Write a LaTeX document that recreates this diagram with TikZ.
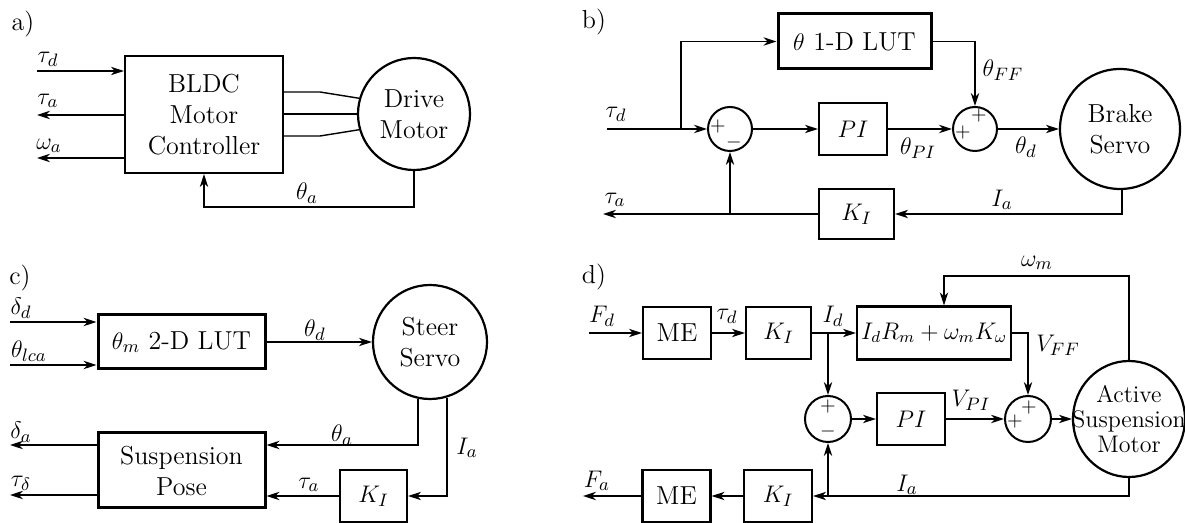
\documentclass[tikz,border=0pt]{standalone}
\usepackage{amsmath}
\usepackage{tikz}
\usetikzlibrary{arrows.meta,calc,positioning,shapes.geometric}

\begin{document}
\begin{tikzpicture}[x=0.5pt,y=-0.5pt,>={Stealth[length=6.5pt,width=4.2pt,inset=2pt]},
  blk/.style={draw,line width=1.1pt,inner sep=0pt,align=center,font=\fontsize{13}{15.5}\selectfont},
  lutblk/.style={blk,line width=1.5pt},
  sumnode/.style={draw,circle,line width=1pt,minimum size=22pt,inner sep=0pt},
  actuator/.style={draw,line width=1.1pt,inner sep=0pt,align=center,font=\fontsize{13}{15.5}\selectfont},
  sig/.style={->,line width=0.7pt},
  wire/.style={line width=0.7pt},
  lbl/.style={inner sep=0pt,font=\fontsize{13}{15}\selectfont},
  sgn/.style={inner sep=0pt,font=\fontsize{10}{12}\selectfont}]
  \useasboundingbox (0,0) rectangle (1185,523);

  % a) drive motor
  \node[lbl] (a-tag) at (23,24) {a)};
  \node[blk,minimum width=79pt,minimum height=58.5pt] (ctrl) at (204,114.5) {BLDC\\Motor\\Controller};
  \node[actuator,circle,minimum size=56pt] (drive) at (414,114) {Drive\\Motor};
  \coordinate (a-td) at (37,71);
  \coordinate (a-ta) at (37,115);
  \coordinate (a-wa) at (37,158);
  \draw[sig] (a-td) -- (a-td -| ctrl.west);
  \draw[sig] (a-ta -| ctrl.west) -- (a-ta);
  \draw[sig] (a-wa -| ctrl.west) -- (a-wa);
  \draw[wire] (ctrl.east |- 0,92) -- (320,92) -- (drive.164);
  \draw[wire] (ctrl.east |- drive.west) -- (drive.west);
  \draw[wire] (ctrl.east |- 0,136) -- (320,136) -- (drive.196);
  \draw[sig] (drive.south) -- (drive.south |- 0,207) -| (ctrl.south);
  \node[lbl] (a-td-l) at (48,59) {$\tau_d$};
  \node[lbl] (a-ta-l) at (48,101) {$\tau_a$};
  \node[lbl] (a-wa-l) at (49,146) {$\omega_a$};
  \node[lbl] (a-th-l) at (307,193) {$\theta_a$};

  % b) brake servo
  \node[lbl] (b-tag) at (594,22) {b)};
  \node[lutblk,minimum width=76.5pt,minimum height=27.5pt] (lut-b) at (854.5,41.5) {$\theta$ 1-D LUT};
  \node[sumnode] (sum-b1) at (730,129) {};
  \node[blk,minimum width=34pt,minimum height=26pt] (pi-b) at (853,129) {$PI$};
  \node[sumnode] (sum-b2) at (975,129) {};
  \node[actuator,circle,minimum size=60pt] (brake) at (1120,129) {Brake\\Servo};
  \node[blk,minimum width=37.5pt,minimum height=25pt] (ki-b) at (856.5,214) {$K_I$};
  \coordinate (b-in) at (607,129);
  \coordinate (b-br) at (681,129);
  \coordinate (b-out) at (603,214);
  \draw[sig] (b-in) -- (sum-b1);
  \draw[sig] (b-br) |- (lut-b);
  \draw[sig] (sum-b1) -- (pi-b);
  \draw[sig] (pi-b) -- (sum-b2);
  \draw[sig] (lut-b) -| (sum-b2);
  \draw[sig] (sum-b2) -- (brake);
  \draw[sig] (brake.272) |- (ki-b);
  \draw[sig] (ki-b) -- (b-out);
  \draw[sig] (sum-b1 |- ki-b) -- (sum-b1);
  \node[sgn] (sb1-p) at (718,127) {$+$};
  \node[sgn] (sb1-m) at (734,143) {$-$};
  \node[sgn] (sb2-p1) at (979,116) {$+$};
  \node[sgn] (sb2-p2) at (963,133) {$+$};
  \node[lbl] (b-td-l) at (616,114) {$\tau_d$};
  \node[lbl] (b-ta-l) at (615,200) {$\tau_a$};
  \node[lbl] (b-ff-l) at (1003,70) {$\theta_{FF}$};
  \node[lbl] (b-pi-l) at (918,148) {$\theta_{PI}$};
  \node[lbl] (b-thd-l) at (1026,147) {$\theta_d$};
  \node[lbl] (b-ia-l) at (1002,200) {$I_a$};

  % c) steer servo
  \node[lbl] (c-tag) at (20,278) {c)};
  \node[lutblk,minimum width=83.5pt,minimum height=27pt] (lut-c) at (181.5,342) {$\theta_m$ 2-D LUT};
  \node[actuator,circle,minimum size=57pt] (steer) at (430,342) {Steer\\Servo};
  \node[lutblk,minimum width=83.5pt,minimum height=37.5pt] (pose) at (181.5,470.5) {Suspension\\Pose};
  \node[blk,minimum width=33.5pt,minimum height=26pt] (ki-c) at (373.5,496) {$K_I$};
  \coordinate (c-in1) at (10,322);
  \coordinate (c-in2) at (10,365);
  \coordinate (c-out1) at (10,445);
  \coordinate (c-out2) at (10,495);
  \draw[sig] (c-in1) -- (c-in1 -| lut-c.west);
  \draw[sig] (c-in2) -- (c-in2 -| lut-c.west);
  \draw[sig] (lut-c) -- (steer);
  \draw[sig] (steer.258) |- (c-out1 -| pose.east);
  \draw[sig] (steer.287) |- (ki-c);
  \draw[sig] (ki-c) -- (ki-c -| pose.east);
  \draw[sig] (c-out1 -| pose.west) -- (c-out1);
  \draw[sig] (c-out2 -| pose.west) -- (c-out2);
  \node[lbl] (c-dd-l) at (21,308) {$\delta_d$};
  \node[lbl] (c-lca-l) at (29,351) {$\theta_{lca}$};
  \node[lbl] (c-da-l) at (21,432) {$\delta_a$};
  \node[lbl] (c-td-l) at (21,483) {$\tau_\delta$};
  \node[lbl] (c-thd-l) at (315,330) {$\theta_d$};
  \node[lbl] (c-tha-l) at (342,435) {$\theta_a$};
  \node[lbl] (c-ta-l) at (309,485) {$\tau_a$};
  \node[lbl] (c-ia-l) at (467,448) {$I_a$};

  % d) active suspension
  \node[lbl] (d-tag) at (594,277) {d)};
  \node[blk,minimum width=34pt,minimum height=26pt] (me-d1) at (677,333) {ME};
  \node[blk,minimum width=32.5pt,minimum height=26pt] (ki-d1) at (778.5,333) {$K_I$};
  \node[blk,minimum width=77pt,minimum height=26.5pt,font=\fontsize{12}{14}\selectfont] (ff) at (934,333) {$I_dR_m+\omega_mK_\omega$};
  \node[sumnode,minimum size=23pt] (sum-d1) at (828,419) {};
  \node[blk,minimum width=34pt,minimum height=26pt] (pi-d) at (911,419) {$PI$};
  \node[sumnode,minimum size=23pt] (sum-d2) at (1028,419) {};
  \node[actuator,ellipse,minimum width=56pt,minimum height=58pt] (motor) at (1129,419) {};
  \node[lbl,align=center,font=\fontsize{12}{12.5}\selectfont] (motor-txt) at (motor) {Active\\Suspension\\Motor};
  \node[blk,minimum width=34pt,minimum height=26pt] (ki-d2) at (778,496) {$K_I$};
  \node[blk,minimum width=34pt,minimum height=26pt] (me-d2) at (676.5,496) {ME};
  \coordinate (d-in) at (589,333);
  \coordinate (d-out) at (583,496);
  \coordinate (d-wm) at (944,276);
  \draw[sig] (d-in) -- (me-d1);
  \draw[sig] (me-d1) -- (ki-d1);
  \draw[sig] (ki-d1) -- (ff);
  \draw[sig] (sum-d1 |- ki-d1.east) -- (sum-d1);
  \draw[sig] (sum-d1) -- (pi-d);
  \draw[sig] (pi-d) -- (sum-d2);
  \draw[sig] (ff.east) -| (sum-d2);
  \draw[sig] (sum-d2) -- (motor);
  \draw[sig] (motor.north) |- (d-wm) -- (d-wm |- ff.north);
  \draw[sig] (motor.south) |- (ki-d2);
  \draw[sig] (sum-d1 |- ki-d2.east) -- (sum-d1);
  \draw[sig] (ki-d2) -- (me-d2);
  \draw[sig] (me-d2) -- (d-out);
  \node[sgn] (sd1-p) at (828,407) {$+$};
  \node[sgn] (sd1-m) at (828,432) {$-$};
  \node[sgn] (sd2-p1) at (1029,408) {$+$};
  \node[sgn] (sd2-p2) at (1015,422) {$+$};
  \node[lbl] (d-fd-l) at (602,316) {$F_d$};
  \node[lbl] (d-td-l) at (727,316) {$\tau_d$};
  \node[lbl] (d-id-l) at (833,316) {$I_d$};
  \node[lbl] (d-vff-l) at (1058,345) {$V_{FF}$};
  \node[lbl] (d-wm-l) at (1037,263) {$\omega_m$};
  \node[lbl] (d-vpi-l) at (971,400) {$V_{PI}$};
  \node[lbl] (d-ia-l) at (907,485) {$I_a$};
  \node[lbl] (d-fa-l) at (597,481) {$F_a$};
\end{tikzpicture}
\end{document}
